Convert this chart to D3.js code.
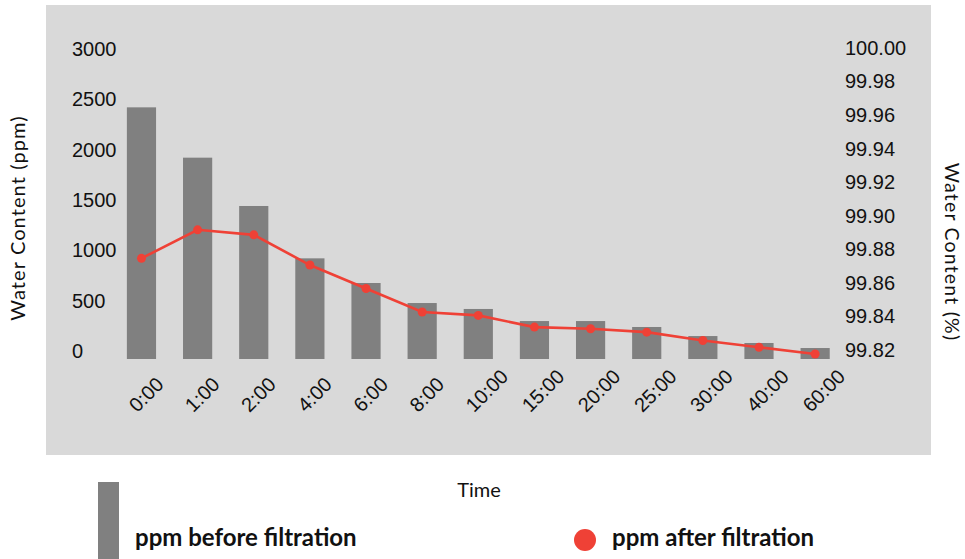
<!DOCTYPE html>
<html>
<head>
<meta charset="utf-8">
<script src="https://cdn.jsdelivr.net/npm/d3@7"></script>
<style>
	body { margin: 0; background: #fff; }
	text { fill: #111; }
</style>
</head>
<body>
<svg id="chart" width="965" height="559"></svg>
<script>
	var times = ['0:00', '1:00', '2:00', '4:00', '6:00', '8:00', '10:00', '15:00', '20:00', '25:00', '30:00', '40:00', '60:00'];
	var ppmBefore = [2500, 2000, 1520, 1000, 755, 556, 497, 377, 377, 318, 228, 159, 109];
	var pctAfter = [99.880, 99.897, 99.894, 99.876, 99.862, 99.848, 99.846, 99.839, 99.838, 99.836, 99.831, 99.827, 99.823];
	var leftTicks = [0, 500, 1000, 1500, 2000, 2500, 3000];
	var rightTicks = [99.82, 99.84, 99.86, 99.88, 99.90, 99.92, 99.94, 99.96, 99.98, 100.00];

	var numFont = '"Liberation Sans", Arial, sans-serif';
	var titleFont = 'Lato, "Open Sans", sans-serif';
	var grey = '#808080';
	var red = '#ef4136';

	var svg = d3.select('#chart');

	// panel background
	svg.append('rect')
		.attr('x', 46).attr('y', 5)
		.attr('width', 885).attr('height', 450)
		.attr('fill', '#d9d9d9');

	var x = d3.scaleBand()
		.domain(times)
		.range([113.4, 843.2])
		.paddingInner(0.48)
		.paddingOuter(0.24);

	var yLeft = d3.scaleLinear().domain([0, 3000]).range([359, 57]);
	var yRight = d3.scaleLinear().domain([99.82, 100]).range([359, 57]);

	// left axis
	var la = svg.append('g')
		.attr('transform', 'translate(72,-8)')
		.call(d3.axisLeft(yLeft).tickValues(leftTicks).tickSize(0).tickPadding(0).tickFormat(d3.format('d')));
	la.select('.domain').remove();
	la.selectAll('text')
		.attr('text-anchor', 'start')
		.attr('x', 0)
		.style('font-family', numFont)
		.style('font-size', '20px')
		.style('fill', '#111');

	// right axis
	var ra = svg.append('g')
		.attr('transform', 'translate(845,-9)')
		.call(d3.axisRight(yRight).tickValues(rightTicks).tickSize(0).tickPadding(0).tickFormat(d3.format('.2f')));
	ra.select('.domain').remove();
	ra.selectAll('text')
		.attr('text-anchor', 'start')
		.attr('x', 0)
		.style('font-family', numFont)
		.style('font-size', '20px')
		.style('fill', '#111');

	// bars
	svg.append('g')
		.selectAll('rect')
		.data(ppmBefore)
		.enter()
		.append('rect')
		.attr('x', function (d, i) { return x(times[i]); })
		.attr('y', function (d) { return yLeft(d); })
		.attr('width', x.bandwidth())
		.attr('height', function (d) { return yLeft(0) - yLeft(d); })
		.attr('fill', grey);

	// line
	var line = d3.line()
		.x(function (d, i) { return x(times[i]) + x.bandwidth() / 2; })
		.y(function (d) { return yRight(d); });

	svg.append('path')
		.datum(pctAfter)
		.attr('d', line)
		.attr('fill', 'none')
		.attr('stroke', red)
		.attr('stroke-width', 2.6);

	svg.append('g')
		.selectAll('circle')
		.data(pctAfter)
		.enter()
		.append('circle')
		.attr('cx', function (d, i) { return x(times[i]) + x.bandwidth() / 2; })
		.attr('cy', function (d) { return yRight(d); })
		.attr('r', 4.5)
		.attr('fill', red);

	// x axis labels
	var xa = svg.append('g')
		.attr('transform', 'translate(0,409)')
		.call(d3.axisBottom(x).tickSize(0).tickPadding(0));
	xa.select('.domain').remove();
	xa.selectAll('text')
		.attr('y', 0)
		.attr('dy', 0)
		.attr('x', -6)
		.attr('text-anchor', 'start')
		.attr('transform', 'rotate(-45)')
		.style('font-family', numFont)
		.style('font-size', '20px')
		.style('fill', '#111');

	// axis titles
	svg.append('text')
		.attr('transform', 'translate(25,218) rotate(-90)')
		.attr('text-anchor', 'middle')
		.style('font-family', titleFont)
		.style('font-size', '20px')
		.style('letter-spacing', '1.1px')
		.text('Water Content (ppm)');

	svg.append('text')
		.attr('transform', 'translate(945,252) rotate(90)')
		.attr('text-anchor', 'middle')
		.style('font-family', titleFont)
		.style('font-size', '19.5px')
		.style('letter-spacing', '1.2px')
		.text('Water Content (%)');

	svg.append('text')
		.attr('x', 479).attr('y', 497)
		.attr('text-anchor', 'middle')
		.style('font-family', titleFont)
		.style('font-size', '20px')
		.text('Time');

	// legend
	svg.append('rect')
		.attr('x', 98).attr('y', 482)
		.attr('width', 21).attr('height', 77)
		.attr('fill', grey);
	svg.append('text')
		.attr('x', 135).attr('y', 546)
		.style('font-family', titleFont)
		.style('font-size', '24px')
		.style('font-weight', 'bold')
		.text('ppm before filtration');

	svg.append('circle')
		.attr('cx', 585).attr('cy', 540)
		.attr('r', 11)
		.attr('fill', red);
	svg.append('text')
		.attr('x', 612).attr('y', 546)
		.style('font-family', titleFont)
		.style('font-size', '24px')
		.style('font-weight', 'bold')
		.text('ppm after filtration');
</script>
</body>
</html>
